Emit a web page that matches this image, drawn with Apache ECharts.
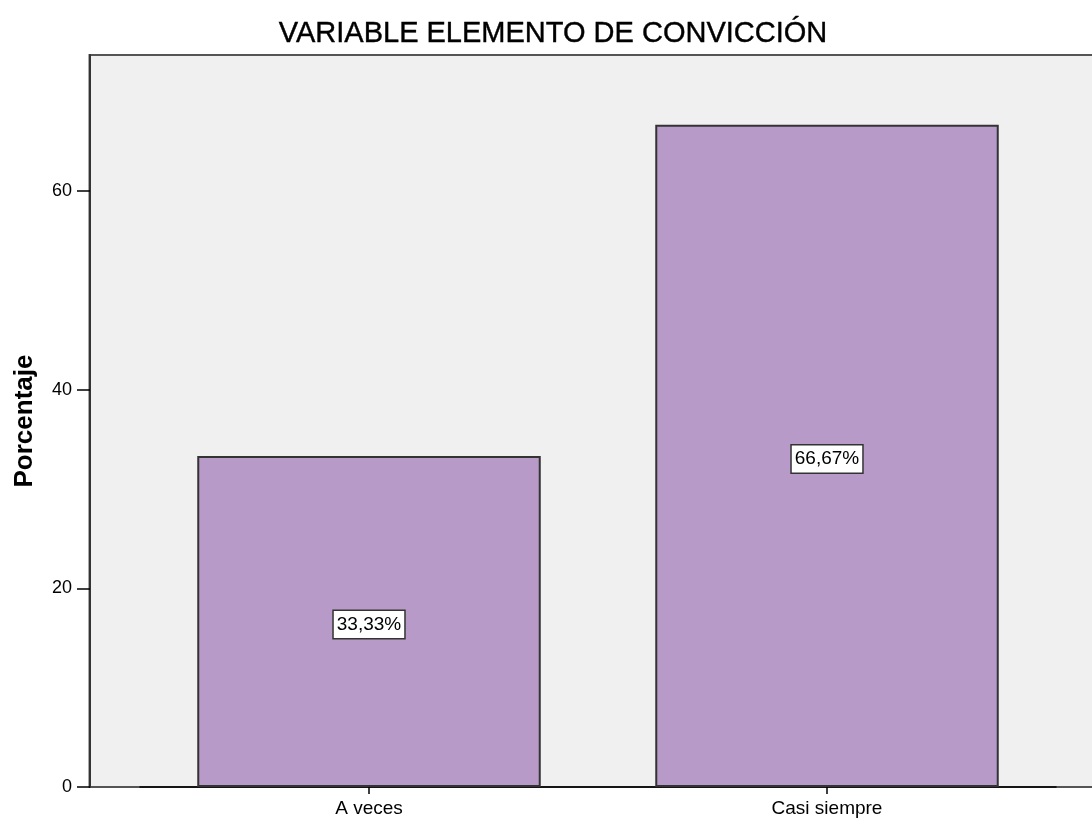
<!DOCTYPE html>
<html>
<head>
<meta charset="utf-8">
<script src="https://cdn.jsdelivr.net/npm/echarts@6/dist/echarts.min.js"></script>
<style>
  html, body { margin: 0; padding: 0; background: #ffffff; }
  #chart { width: 1092px; height: 821px; }
</style>
</head>
<body>
<div id="chart"></div>
<script>
// Response categories and their percentages
const categories = ['A veces', 'Casi siempre'];
const percentages = [33.33, 66.67];
const yTicks = [0, 20, 40, 60];

const chart = echarts.init(document.getElementById('chart'));

const fmt = v => v.toFixed(2).replace('.', ',') + '%';

chart.setOption({
  animation: false,
  backgroundColor: '#ffffff',
  title: {
    text: 'VARIABLE ELEMENTO DE CONVICCIÓN',
    left: 548,
    textAlign: 'center',
    top: 14,
    textStyle: {
      fontFamily: 'Liberation Sans, Arial, sans-serif',
      fontSize: 29,
      fontWeight: 'normal',
      color: '#000000',
      textBorderColor: '#000000',
      textBorderWidth: 0.4
    }
  },
  // Plot panel: light grey fill, frame running past the right edge
  graphic: [
    {
      type: 'rect',
      z: -10,
      silent: true,
      shape: { x: 89.5, y: 55, width: 1020, height: 732 },
      style: { fill: '#f0f0f0', stroke: '#555555', lineWidth: 2 }
    }
  ],
  grid: {
    left: 140,
    right: 36,
    top: 55,
    bottom: 34
  },
  xAxis: {
    type: 'category',
    data: categories,
    axisLine: { show: true, lineStyle: { color: '#000000', width: 1.5 } },
    axisTick: { show: true, alignWithLabel: true, length: 7, lineStyle: { color: '#000000', width: 1.5 } },
    axisLabel: {
      margin: 12,
      fontFamily: 'Liberation Sans, Arial, sans-serif',
      fontSize: 19,
      color: '#000000'
    },
    splitLine: { show: false }
  },
  yAxis: {
    type: 'value',
    min: 0,
    max: 73.7,
    interval: 20,
    offset: 50,
    name: 'Porcentaje',
    nameLocation: 'middle',
    nameGap: 52,
    nameRotate: 90,
    nameTextStyle: {
      fontFamily: 'Liberation Sans, Arial, sans-serif',
      fontSize: 26,
      fontWeight: 'bold',
      color: '#000000'
    },
    axisLine: { show: true, lineStyle: { color: '#333333', width: 2 } },
    axisTick: {
      show: true,
      length: 13,
      customValues: yTicks,
      lineStyle: { color: '#000000', width: 1.5 }
    },
    axisLabel: {
      customValues: yTicks,
      margin: 18,
      fontFamily: 'Liberation Sans, Arial, sans-serif',
      fontSize: 18,
      color: '#000000'
    },
    splitLine: { show: false }
  },
  series: [
    {
      type: 'bar',
      data: percentages,
      barWidth: '75%',
      itemStyle: {
        color: '#b89ac8',
        borderColor: '#333333',
        borderWidth: 2
      },
      label: {
        show: true,
        position: 'inside',
        offset: [0, 3],
        formatter: p => fmt(p.value),
        fontFamily: 'Liberation Sans, Arial, sans-serif',
        fontSize: 19,
        color: '#000000',
        backgroundColor: '#ffffff',
        borderColor: '#333333',
        borderWidth: 1.5,
        padding: [5, 3, 3, 3]
      }
    }
  ]
});
</script>
</body>
</html>
